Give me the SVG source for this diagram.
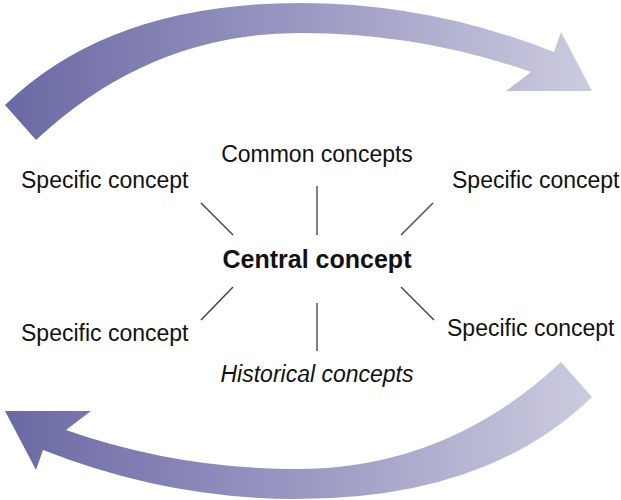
<svg xmlns="http://www.w3.org/2000/svg" width="621" height="500" viewBox="0 0 621 500">
  <defs>
    <linearGradient id="g" gradientUnits="userSpaceOnUse" x1="0" y1="0" x2="600" y2="0">
      <stop offset="0" stop-color="#6a68a3"/>
      <stop offset="0.5" stop-color="#9a98c2"/>
      <stop offset="1" stop-color="#cdcde0"/>
    </linearGradient>
  </defs>
  <style>
    text { font-family: "Liberation Sans", Arial, sans-serif; font-size: 23px; fill: #111; }
    .bold { font-weight: bold; font-size: 25px; }
    .it { font-style: italic; }
    .diag { stroke: #444; stroke-width: 1.5; }
    .vert { stroke: #808080; stroke-width: 2; }
  </style>
  <rect width="621" height="500" fill="#fff"/>
  <g id="arrows">
    <path id="arrow-top" fill="url(#g)" d="M5,105 Q110,3 300,3 Q430,3 554,52 L561,32 L592,91 L506,91 L531,72 Q420,33 300,33 Q150,33 36,140 Z"/>
    <path id="arrow-bottom" fill="url(#g)" d="M592,397 Q487,499 297,499 Q167,499 43,450 L36,470 L5,411 L91,411 L66,430 Q177,469 297,469 Q447,469 561,362 Z"/>
  </g>
  <g id="connectors">
    <line class="diag" x1="201" y1="203" x2="233" y2="235"/>
    <line class="vert" x1="317" y1="186" x2="317" y2="235"/>
    <line class="diag" x1="433" y1="203" x2="401" y2="235"/>
    <line class="diag" x1="233" y1="287" x2="201" y2="320"/>
    <line class="vert" x1="317" y1="303" x2="317" y2="351"/>
    <line class="diag" x1="401" y1="287" x2="434" y2="320"/>
  </g>
  <g id="central"><text class="bold" x="317" y="268" text-anchor="middle">Central concept</text></g>
  <g id="common"><text x="317" y="162" text-anchor="middle">Common concepts</text></g>
  <g id="historical"><text class="it" x="317" y="382" text-anchor="middle">Historical concepts</text></g>
  <g id="specific-tl"><text x="21" y="188">Specific concept</text></g>
  <g id="specific-tr"><text x="452" y="188">Specific concept</text></g>
  <g id="specific-bl"><text x="21" y="341">Specific concept</text></g>
  <g id="specific-br"><text x="447" y="336">Specific concept</text></g>
</svg>
